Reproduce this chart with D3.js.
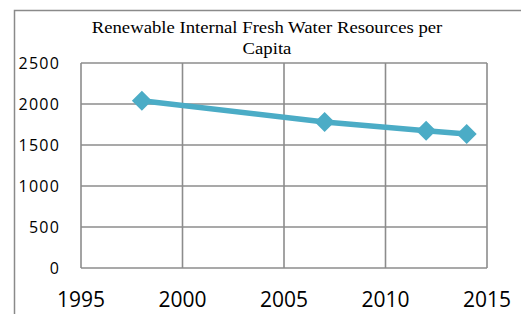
<!DOCTYPE html>
<html lang="en">
<head>
    <meta charset="UTF-8">
    <title>Renewable water per capita</title>
    <script src="https://cdn.jsdelivr.net/npm/d3@7"></script>
    <style>
        body{
            margin: 0;
            background-color: #ffffff;
        }
        .title{
            font-family: "Liberation Serif", "Times New Roman", serif;
            font-size: 17px;
            fill: #000;
        }
        .tick-label{
            font-family: "Open Sans", sans-serif;
            fill: #000;
        }
    </style>
</head>
<body>
<div id="chart"></div>
<script>
    var WIDTH = 521;
    var HEIGHT = 314;

    var YEARS = [1998, 2007, 2012, 2014];
    var VALUES = [2040, 1780, 1675, 1635];
    var X_TICKS = [1995, 2000, 2005, 2010, 2015];
    var Y_TICKS = [0, 500, 1000, 1500, 2000, 2500];
    var TITLE_LINES = ["Renewable Internal Fresh Water Resources per", "Capita"];

    var LINE_COLOR = "#4bacc6";
    var GRID_COLOR = "#8c8c8c";

    var PLOT = {left: 81, right: 487, top: 63, bottom: 268};

    var svg = d3.select("#chart").append("svg")
        .attr("width", WIDTH)
        .attr("height", HEIGHT);

    // outer chart border (runs off the right / bottom edge)
    svg.append("path")
        .attr("d", "M14.5," + HEIGHT + "V10.5H" + WIDTH)
        .attr("fill", "none")
        .attr("stroke", "#8a8a8a")
        .attr("stroke-width", 1.5);

    var x = d3.scaleLinear().domain([1995, 2015]).range([PLOT.left, PLOT.right]);
    var y = d3.scaleLinear().domain([0, 2500]).range([PLOT.bottom, PLOT.top]);

    var grid = svg.append("g");
    grid.selectAll("line.h").data(Y_TICKS).enter().append("line")
        .attr("class", "h")
        .attr("x1", PLOT.left).attr("x2", PLOT.right)
        .attr("y1", function(d){ return y(d); })
        .attr("y2", function(d){ return y(d); })
        .attr("stroke", GRID_COLOR)
        .attr("stroke-width", 1.6);
    grid.selectAll("line.v").data(X_TICKS).enter().append("line")
        .attr("class", "v")
        .attr("y1", PLOT.top).attr("y2", PLOT.bottom)
        .attr("x1", function(d){ return x(d); })
        .attr("x2", function(d){ return x(d); })
        .attr("stroke", GRID_COLOR)
        .attr("stroke-width", 1.6);

    svg.selectAll("text.ylab").data(Y_TICKS).enter().append("text")
        .attr("class", "tick-label ylab")
        .attr("x", 60)
        .attr("y", function(d){ return y(d); })
        .attr("dy", "0.36em")
        .attr("text-anchor", "end")
        .style("font-size", "16px")
        .style("letter-spacing", "1.2px")
        .text(function(d){ return d; });

    svg.selectAll("text.xlab").data(X_TICKS).enter().append("text")
        .attr("class", "tick-label xlab")
        .attr("x", function(d){ return x(d); })
        .attr("y", 307)
        .attr("text-anchor", "middle")
        .style("font-size", "21px")
        .text(function(d){ return d; });

    svg.selectAll("text.title").data(TITLE_LINES).enter().append("text")
        .attr("class", "title")
        .attr("text-anchor", "middle")
        .attr("transform", function(d, i){
            return "translate(267," + (33 + i * 21) + ") scale(1.1,1)";
        })
        .text(function(d){ return d; });

    var points = YEARS.map(function(yr, i){ return [yr, VALUES[i]]; });

    svg.append("path")
        .datum(points)
        .attr("d", d3.line().x(function(d){ return x(d[0]); }).y(function(d){ return y(d[1]); }))
        .attr("fill", "none")
        .attr("stroke", LINE_COLOR)
        .attr("stroke-width", 5.5)
        .attr("stroke-linejoin", "round");

    var diamond = d3.symbol().type(d3.symbolSquare).size(200);
    svg.selectAll("path.marker").data(points).enter().append("path")
        .attr("class", "marker")
        .attr("d", diamond)
        .attr("fill", LINE_COLOR)
        .attr("transform", function(d){
            return "translate(" + x(d[0]) + "," + y(d[1]) + ") rotate(45)";
        });
</script>
</body>
</html>
